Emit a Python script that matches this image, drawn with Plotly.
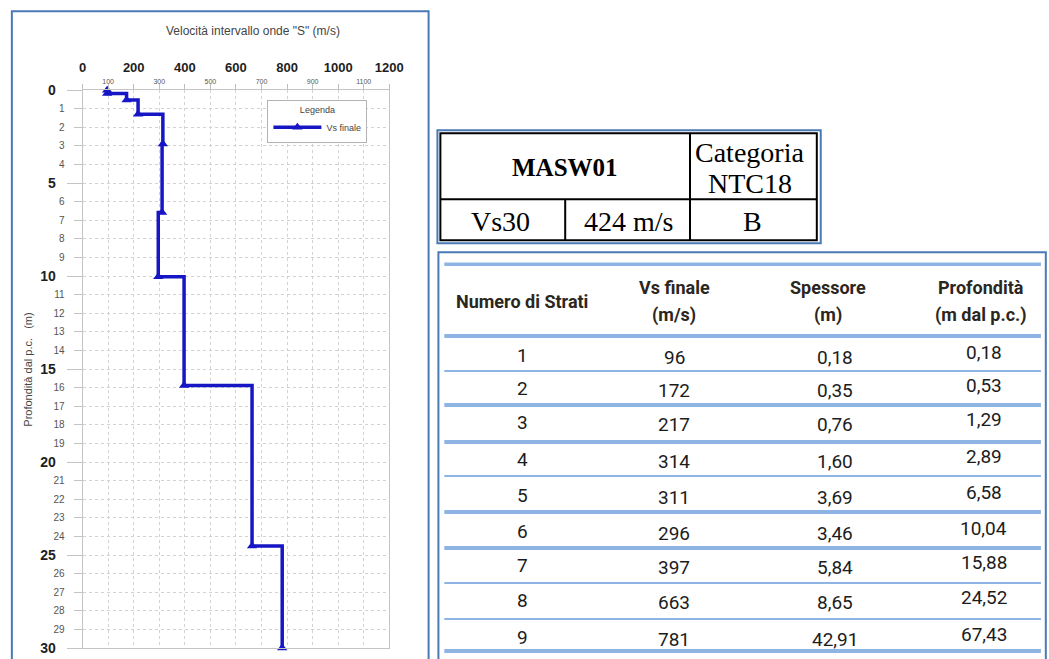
import plotly.graph_objects as go

# ---------------- data ----------------
strati = [1, 2, 3, 4, 5, 6, 7, 8, 9]
vs_finale = [96, 172, 217, 314, 311, 296, 397, 663, 781]          # m/s
spessore = [0.18, 0.35, 0.76, 1.60, 3.69, 3.46, 5.84, 8.65, 42.91]  # m
profondita = [0.18, 0.53, 1.29, 2.89, 6.58, 10.04, 15.88, 24.52, 67.43]  # m dal p.c.
z_max = 30  # profondità massima del grafico (Vs30)

x_major = [0, 200, 400, 600, 800, 1000, 1200]
x_minor = [100, 300, 500, 700, 900, 1100]
y_major = [0, 5, 10, 15, 20, 25, 30]
y_minor = [v for v in range(0, 31) if v % 5 != 0]

sito = "MASW01"
categoria_label = ["Categoria", "NTC18"]
vs30_label = "Vs30"
vs30_value = "424 m/s"
categoria = "B"

header = [["Numero di Strati"], ["Vs finale", "(m/s)"], ["Spessore", "(m)"], ["Profondità", "(m dal p.c.)"]]

# ---------------- layout helpers ----------------
W, H = 1049, 659
# the photographed page shows the figure with an 8 px band above and below,
# so vertical page positions are mapped back onto figure positions
Y_OFF, Y_SCALE = 7.8, 0.976


def fx(px):
    return px / W


def fy(py):
    return 1 - ((py - Y_OFF) / Y_SCALE) / H


def fmt(v):
    return f"{v:.2f}".replace(".", ",")


SANS = "Liberation Sans, Arial, sans-serif"
SERIF = "Liberation Serif, Times New Roman, serif"
TAB_HEAD = "Roboto, Liberation Sans, sans-serif"
TAB_VAL = "Roboto, Liberation Sans, sans-serif"

BLUE_LINE = "#1616c4"
GRID = "#d2d2d2"
FRAME = "#4a7ab5"
TLINE = "#8db4e2"

# ---------------- chart ----------------
px_x = [vs_finale[0]] + vs_finale
px_y = [0] + [min(d, z_max) for d in profondita]

fig = go.Figure()
fig.add_trace(go.Scatter(
    x=px_x, y=px_y, mode="lines+markers", name="Vs finale",
    line=dict(color=BLUE_LINE, width=3.5, shape="hv"),
    marker=dict(symbol="triangle-up", size=9, color=BLUE_LINE),
    cliponaxis=False,
))
fig.add_trace(go.Scatter(x=[None], y=[None], xaxis="x2", yaxis="y2",
                         showlegend=False, hoverinfo="skip"))

xdom = [fx(80), fx(392)]
ydom = [fy(648), fy(90)]

fig.update_layout(
    width=W, height=H, margin=dict(l=0, r=0, t=0, b=0),
    paper_bgcolor="white", plot_bgcolor="white",
    font=dict(family=SANS, color="#333"),
    xaxis=dict(
        domain=xdom, anchor="y", side="top", range=[0, 1200],
        tickvals=x_major, ticktext=[f"<b>{v}</b>" for v in x_major],
        tickfont=dict(size=13, color="#1e1e1e", family=SANS),
        ticks="outside", ticklen=5, tickcolor="#bdbdbd", ticklabelstandoff=7,
        showgrid=True, gridcolor=GRID, griddash="dot", gridwidth=1,
        minor=dict(tickvals=x_minor, ticks="outside", ticklen=5, tickcolor="#bdbdbd",
                   showgrid=True, gridcolor=GRID, griddash="dot", gridwidth=1),
        showline=True, linecolor="#c4c4c4", linewidth=1, mirror=True, zeroline=False,
        ticklabeloverflow="allow",
    ),
    xaxis2=dict(
        overlaying="x", anchor="y", side="top", range=[0, 1200],
        tickvals=x_minor, ticktext=[str(v) for v in x_minor],
        tickfont=dict(size=7, color="#555", family=SANS),
        ticks="", showgrid=False, showline=False, zeroline=False, ticklabelstandoff=4,
    ),
    yaxis=dict(
        domain=ydom, anchor="x", range=[z_max, 0],
        tickvals=y_major, ticktext=[f"<b>{v}</b>" for v in y_major],
        tickfont=dict(size=14, color="#1e1e1e", family=SANS),
        ticks="outside", ticklen=15, tickcolor="#c4c4c4", ticklabelstandoff=8,
        showgrid=True, gridcolor=GRID, griddash="dot", gridwidth=1,
        minor=dict(tickvals=y_minor, ticks="outside", ticklen=8, tickcolor="#c4c4c4",
                   showgrid=True, gridcolor=GRID, griddash="dot", gridwidth=1),
        showline=True, linecolor="#c4c4c4", linewidth=1, mirror=True, zeroline=False,
        ticklabeloverflow="allow",
    ),
    yaxis2=dict(
        overlaying="y", anchor="x", side="left", range=[z_max, 0],
        tickvals=y_minor, ticktext=[str(v) for v in y_minor],
        tickfont=dict(size=10, color="#555", family=SANS),
        ticks="", showgrid=False, showline=False, zeroline=False, ticklabelstandoff=17,
    ),
    legend=dict(
        x=fx(268), y=fy(100), xanchor="left", yanchor="top",
        bgcolor="white", bordercolor="#b4b4b4", borderwidth=1,
        font=dict(size=9, color="#444", family=SANS),
        title=dict(text="Legenda", side="top center", font=dict(size=9, color="#444")),
        itemwidth=48,
    ),
    showlegend=True,
)

annotations = []
shapes = []

# chart titles
annotations.append(dict(x=fx(253), y=fy(31), xref="paper", yref="paper",
                        text='Velocità intervallo onde "S" (m/s)', showarrow=False,
                        font=dict(size=12, color="#444", family=SANS),
                        xanchor="center", yanchor="middle"))
annotations.append(dict(x=fx(25), y=fy(370), xref="paper", yref="paper",
                        text="Profondità dal p.c.   (m)", showarrow=False, textangle=-90,
                        font=dict(size=11, color="#444", family=SANS),
                        xanchor="center", yanchor="middle"))

# left panel frame
shapes.append(dict(type="rect", xref="paper", yref="paper",
                   x0=fx(8), x1=fx(432), y0=fy(690), y1=fy(11),
                   line=dict(color=FRAME, width=2)))

# ---------------- table 1 ----------------
shapes.append(dict(type="rect", xref="paper", yref="paper",
                   x0=fx(441), x1=fx(831), y0=fy(243), y1=fy(130),
                   line=dict(color=FRAME, width=2)))
shapes.append(dict(type="rect", xref="paper", yref="paper",
                   x0=fx(444), x1=fx(827), y0=fy(240), y1=fy(133),
                   line=dict(color="black", width=2)))
shapes.append(dict(type="line", xref="paper", yref="paper",
                   x0=fx(444), x1=fx(827), y0=fy(199), y1=fy(199),
                   line=dict(color="black", width=2)))
shapes.append(dict(type="line", xref="paper", yref="paper",
                   x0=fx(698), x1=fx(698), y0=fy(133), y1=fy(240),
                   line=dict(color="black", width=2)))
shapes.append(dict(type="line", xref="paper", yref="paper",
                   x0=fx(571), x1=fx(571), y0=fy(199), y1=fy(240),
                   line=dict(color="black", width=2)))


def t1(text, x, y, size=28, bold=False):
    annotations.append(dict(x=fx(x), y=fy(y), xref="paper", yref="paper",
                            text=f"<b>{text}</b>" if bold else text, showarrow=False,
                            font=dict(size=size, color="black", family=SERIF),
                            xanchor="center", yanchor="middle"))


t1(sito, 571, 167, size=25, bold=True)
t1(categoria_label[0], 759, 152)
t1(categoria_label[1], 759, 183)
t1(vs30_label, 505, 221)
t1(vs30_value, 635, 221)
t1(categoria, 762, 221)

# ---------------- table 2 ----------------
shapes.append(dict(type="rect", xref="paper", yref="paper",
                   x0=fx(442), x1=fx(1060), y0=fy(690), y1=fy(252),
                   line=dict(color=FRAME, width=2)))
row_lines = [(264, 3.5), (336, 4), (371, 2), (405, 4), (442, 4), (476, 2),
             (512, 4), (548, 4), (583, 2), (619, 2), (651, 4)]
for yy, ww in row_lines:
    shapes.append(dict(type="line", xref="paper", yref="paper",
                       x0=fx(448), x1=fx(1055), y0=fy(yy), y1=fy(yy),
                       line=dict(color=TLINE, width=ww)))

col_x = [528, 682, 845, 997]
head_x = [527, 682, 838, 994]
for cx, lines in zip(head_x, header):
    if len(lines) == 1:
        ys = [301]
    else:
        ys = [287, 315]
    for t, yy in zip(lines, ys):
        annotations.append(dict(x=fx(cx), y=fy(yy), xref="paper", yref="paper",
                                text=f"<b>{t}</b>", showarrow=False,
                                font=dict(size=18, color="#2b2620", family=TAB_HEAD),
                                xanchor="center", yanchor="middle"))

row_y = [356, 389, 423, 460, 496, 532, 566, 601, 638]
for i in range(len(strati)):
    vals = [str(strati[i]), str(vs_finale[i]), fmt(spessore[i]), fmt(profondita[i])]
    offs = [-1, 1, 1, -4]
    for cx, v, o in zip(col_x, vals, offs):
        annotations.append(dict(x=fx(cx), y=fy(row_y[i] + o), xref="paper", yref="paper",
                                text=v, showarrow=False,
                                font=dict(size=19, color="#1c1c1c", family=TAB_VAL),
                                xanchor="center", yanchor="middle"))

fig.update_layout(annotations=annotations, shapes=shapes)
fig.write_html("out.html",
               config={"displayModeBar": False},
               post_script="document.body.style.margin='0px';document.body.style.overflow='hidden';")
